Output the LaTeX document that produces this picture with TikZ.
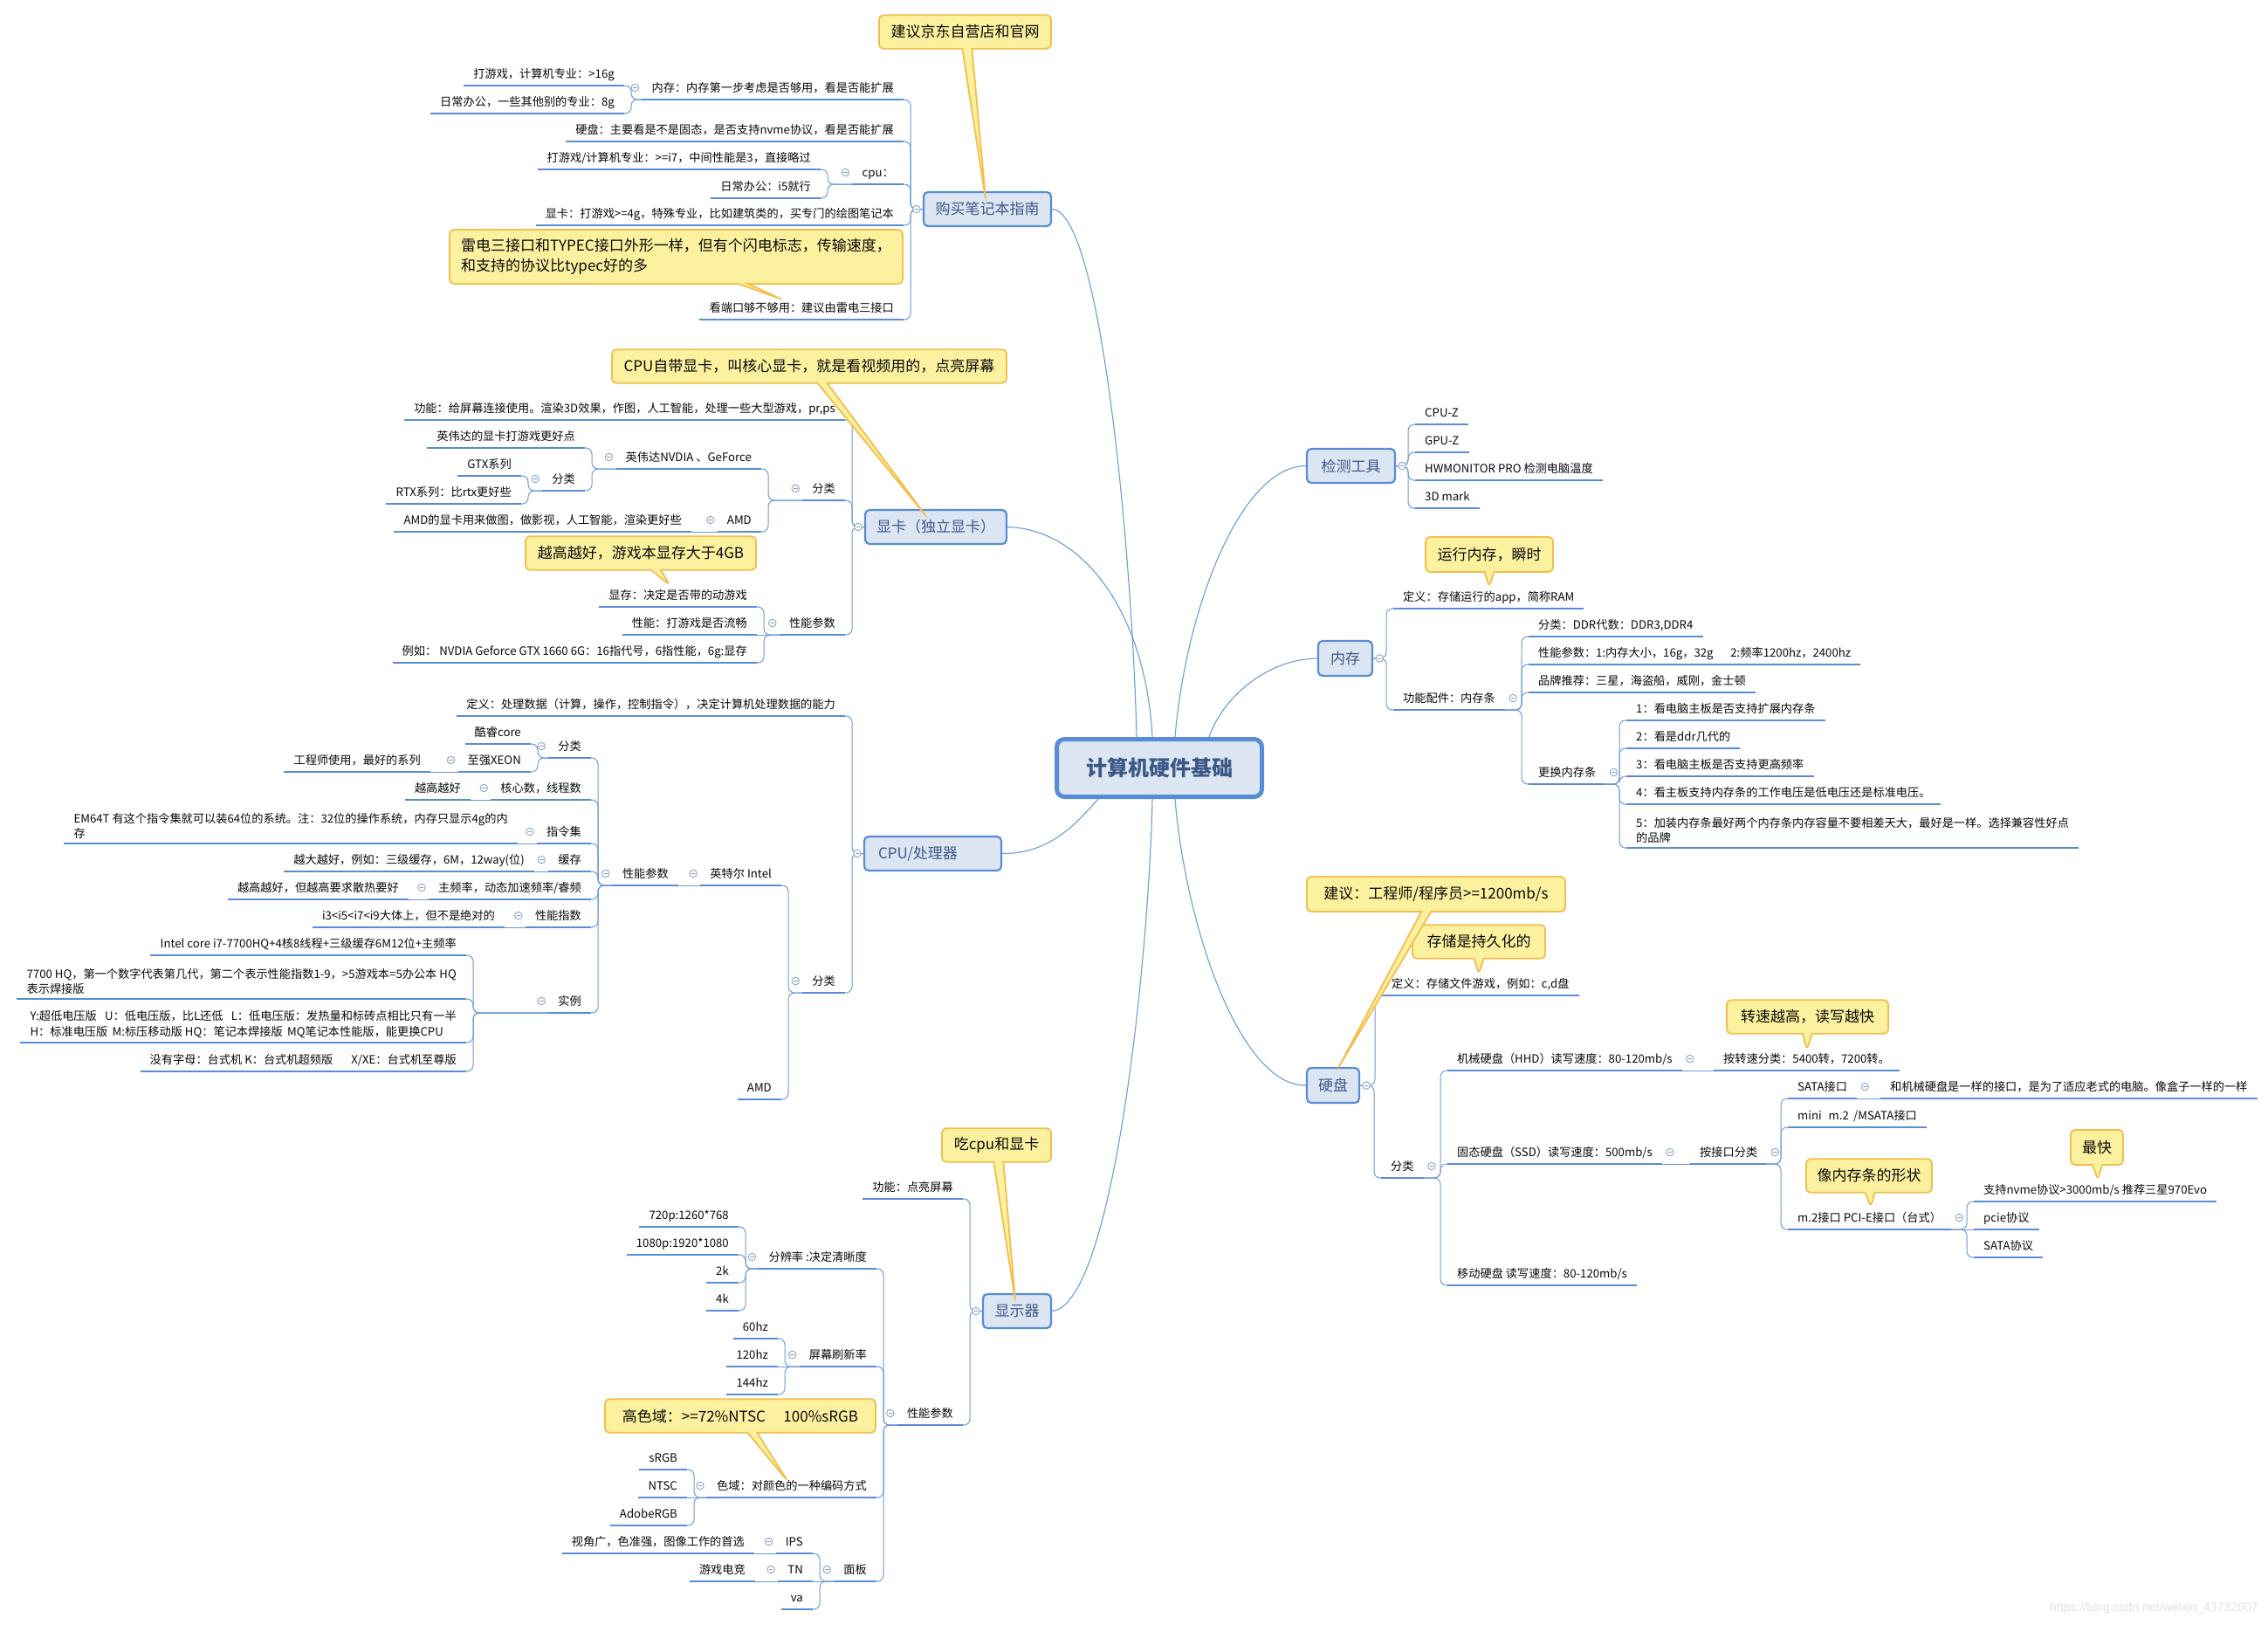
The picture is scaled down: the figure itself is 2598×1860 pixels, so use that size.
\documentclass[tikz,border=0pt]{standalone}
\usepackage{fontspec}
\setmainfont{Noto Sans CJK SC}
\newfontfamily\wmfont{Liberation Sans}
\usetikzlibrary{shapes.callouts,calc}
\pgfdeclarelayer{bg}
\pgfsetlayers{bg,main}
\definecolor{ulc}{RGB}{88,140,212}
\definecolor{connc}{RGB}{110,155,215}
\definecolor{topicfill}{RGB}{220,230,242}
\definecolor{topictext}{RGB}{60,88,135}
\definecolor{callfill}{RGB}{252,241,158}
\definecolor{callborder}{RGB}{243,190,78}
\definecolor{leafc}{RGB}{10,10,10}
\definecolor{markc}{RGB}{130,155,195}
\definecolor{wmc}{RGB}{226,226,226}
\tikzset{
 leaf/.style={inner xsep=11pt, inner ysep=5pt, font=\fontsize{13.2}{17.5}\selectfont, text=leafc},
 lleaf/.style={leaf, anchor=south east},
 rleaf/.style={leaf, anchor=south west},
 uline/.style={draw=ulc, line width=2.6pt},
 conn/.style={draw=connc, line width=1pt, rounded corners=7pt},
 curve/.style={draw=connc, line width=1.1pt},
 topic/.style={draw=ulc, fill=topicfill, line width=2.2pt, rounded corners=5pt, minimum height=39pt, inner sep=2pt, font=\fontsize{17}{20}\selectfont, text=topictext},
 note/.style={rectangle callout, draw=callborder, fill=callfill, line width=1.8pt, rounded corners=5pt, callout pointer width=11pt, minimum height=38.5pt, inner xsep=8pt, inner ysep=4pt, font=\fontsize{17}{23}\selectfont, text=leafc},
 marker/.style={circle, draw=markc, fill=white, line width=0.8pt, minimum size=8.5pt, inner sep=0pt, path picture={\draw[markc, line width=0.8pt] ([xshift=-2.3pt]path picture bounding box.center) -- ([xshift=2.3pt]path picture bounding box.center);}},
}
\newcommand\LNode[5][]{\node[lleaf,#1] (#2) at (#3,#4) {\rule[-3pt]{0pt}{11pt}#5};\draw[uline] (#2.south west) -- (#2.south east);}
\newcommand\RNode[5][]{\node[rleaf,#1] (#2) at (#3,#4) {\rule[-3pt]{0pt}{11pt}#5};\draw[uline] (#2.south west) -- (#2.south east);}
\newcommand\Lcon[2]{\draw[conn] (#2.south east) -- ++(8,0) |- (#1);}
\newcommand\Rcon[2]{\draw[conn] (#2.south west) -- ++(-8,0) |- (#1);}
\newcommand\SLcon[2]{\draw[conn] (#2.south east) -- (#1.south west);}
\newcommand\SRcon[2]{\draw[conn] (#1.south east) -- (#2.south west);}
\newcommand\mkL[2]{\node[marker] (#1) at ($(#2.south west)+(-8,-13.5)$) {};}
\newcommand\mkR[2]{\node[marker] (#1) at ($(#2.south east)+(9,-13.5)$) {};}
\newcommand\mkW[2]{\node[marker] (#1) at ($(#2.west)+(-7,0)$) {};}
\newcommand\mkE[2]{\node[marker] (#1) at ($(#2.east)+(7,0)$) {};}
\begin{document}
\begin{tikzpicture}[x=1pt,y=-1pt]
\useasboundingbox (0,0) rectangle (2598,1860);
\begin{pgfonlayer}{bg}
\fill[white] (0,0) rectangle (2598,1860);
\end{pgfonlayer}

% ---------- topics ----------
\node[draw=ulc, fill=topicfill, line width=5pt, rounded corners=9pt, minimum width=235pt, minimum height=66pt, font=\fontsize{24}{28}\selectfont\bfseries, text=topictext] (root) at (1328,879.5) {计算机硬件基础};
\node[topic, minimum width=146pt] (buy) at (1131,239.5) {购买笔记本指南};
\node[topic, minimum width=162pt] (gpu) at (1072,603.5) {显卡（独立显卡）};
\node[topic, minimum width=157pt, text width=125pt, align=left, inner xsep=16pt] (cpu) at (1068.5,977.5) {CPU/处理器};
\node[topic, minimum width=78pt] (mon) at (1165,1501.5) {显示器};
\node[topic, minimum width=101pt] (tool) at (1547.5,533.5) {检测工具};
\node[topic, minimum width=62pt, minimum height=40pt] (mem) at (1541,754) {内存};
\node[topic, minimum width=60pt, minimum height=40pt] (disk) at (1527,1243) {硬盘};

% ---------- buy guide ----------
\LNode{b1}{1035}{114}{内存：内存第一步考虑是否够用，看是否能扩展}
\LNode{b11}{715}{98}{打游戏，计算机专业：>16g}
\LNode{b12}{715}{130}{日常办公，一些其他别的专业：8g}
\LNode{b2}{1035}{162}{硬盘：主要看是不是固态，是否支持nvme协议，看是否能扩展}
\LNode{b3}{1035}{211}{cpu：}
\LNode{b31}{940}{194}{打游戏/计算机专业：>=i7，中间性能是3，直接略过}
\LNode{b32}{940}{227}{日常办公：i5就行}
\LNode{b4}{1035}{258}{显卡：打游戏>=4g，特殊专业，比如建筑类的，买专门的绘图笔记本}
\LNode{b5}{1035}{366}{看端口够不够用：建议由雷电三接口}

% ---------- gpu ----------
\LNode{g1}{968}{481}{功能：给屏幕连接使用。渲染3D效果，作图，人工智能，处理一些大型游戏，pr,ps}
\LNode{g2}{968}{573}{分类}
\LNode{g21}{872}{537}{英伟达NVDIA 、GeForce}
\LNode{g211}{670}{513}{英伟达的显卡打游戏更好点}
\LNode{g212}{670}{562}{分类}
\LNode{g2121}{597}{545}{GTX系列}
\LNode{g2122}{597}{577}{RTX系列：比rtx更好些}
\LNode{g22}{872}{609}{AMD}
\LNode{g221}{792}{609}{AMD的显卡用来做图，做影视，人工智能，渲染更好些}
\LNode{g3}{968}{727}{性能参数}
\LNode{g31}{867}{695}{显存：决定是否带的动游戏}
\LNode{g32}{867}{727}{性能：打游戏是否流畅}
\LNode{g33}{867}{759}{例如： NVDIA Geforce GTX 1660 6G：16指代号，6指性能，6g:显存}

% ---------- cpu ----------
\LNode{c1}{968}{820}{定义：处理数据（计算，操作，控制指令），决定计算机处理数据的能力}
\LNode{c2}{968}{1137}{分类}
\LNode{c21}{895}{1014}{英特尔 Intel}
\LNode{c22}{895}{1259}{AMD}
\LNode{c211}{777}{1014}{性能参数}
\LNode{c2111}{677}{868}{分类}
\LNode{c21111}{608}{852}{酷睿core}
\LNode{c21112}{608}{884}{至强XEON}
\LNode{c211121}{493}{884}{工程师使用，最好的系列}
\LNode{c2112}{677}{916}{核心数，线程数}
\LNode{c21121}{539}{916}{越高越好}
\LNode{c2113}{677}{966}{指令集}
\LNode[align=left]{c21131}{593}{966}{EM64T 有这个指令集就可以装64位的系统。注：32位的操作系统，内存只显示4g的内\\存}
\LNode{c2114}{677}{998}{缓存}
\LNode{c21141}{612}{998}{越大越好，例如：三级缓存，6M，12way(位)}
\LNode{c2115}{677}{1030}{主频率，动态加速频率/睿频}
\LNode{c21151}{468}{1030}{越高越好，但越高要求散热要好}
\LNode{c2116}{677}{1062}{性能指数}
\LNode{c21161}{578}{1062}{i3<i5<i7<i9大体上，但不是绝对的}
\LNode{c2117}{677}{1160}{实例}
\LNode{c21171}{534}{1094}{Intel core i7-7700HQ+4核8线程+三级缓存6M12位+主频率}
\LNode[align=left]{c21172}{534}{1144}{7700 HQ，第一个数字代表第几代，第二个表示性能指数1-9，>5游戏本=5办公本 HQ\\表示焊接版}
\LNode[align=left]{c21173}{534}{1194}{Y:超低电压版\hspace{0.7em}U：低电压版，比L还低\hspace{0.7em}L：低电压版：发热量和标砖点相比只有一半\\H：标准电压版\hspace{0.4em}M:标压移动版 HQ：笔记本焊接版\hspace{0.4em}MQ笔记本性能版，能更换CPU}
\LNode{c21174}{534}{1227}{没有字母：台式机 K：台式机超频版\hspace{1.6em}X/XE：台式机至尊版}

% ---------- monitor ----------
\LNode{d1}{1103}{1373}{功能：点亮屏幕}
\LNode{d2}{1103}{1632}{性能参数}
\LNode{d21}{1004}{1453}{分辨率 :决定清晰度}
\LNode{d211}{846}{1405}{720p:1260*768}
\LNode{d212}{846}{1437}{1080p:1920*1080}
\LNode{d213}{846}{1469}{2k}
\LNode{d214}{846}{1501}{4k}
\LNode{d22}{1004}{1565}{屏幕刷新率}
\LNode{d221}{891}{1533}{60hz}
\LNode{d222}{891}{1565}{120hz}
\LNode{d223}{891}{1597}{144hz}
\LNode{d23}{1004}{1715}{色域：对颜色的一种编码方式}
\LNode{d231}{787}{1683}{sRGB}
\LNode{d232}{787}{1715}{NTSC}
\LNode{d233}{787}{1747}{AdobeRGB}
\LNode{d24}{1004}{1811}{面板}
\LNode{d241}{931}{1779}{IPS}
\LNode{d2411}{864}{1779}{视角广，色准强，图像工作的首选}
\LNode{d242}{931}{1811}{TN}
\LNode{d2421}{865}{1811}{游戏电竞}
\LNode{d243}{931}{1843}{va}

% ---------- tools ----------
\RNode{t1}{1621}{486}{CPU-Z}
\RNode{t2}{1621}{518}{GPU-Z}
\RNode{t3}{1621}{550}{HWMONITOR PRO 检测电脑温度}
\RNode{t4}{1621}{582}{3D mark}

% ---------- memory ----------
\RNode{m1}{1596}{697}{定义：存储运行的app，简称RAM}
\RNode{m2}{1596}{813}{功能配件：内存条}
\RNode{m21}{1751}{729}{分类：DDR代数：DDR3,DDR4}
\RNode{m22}{1751}{761}{性能参数：1:内存大小，16g，32g\hspace{1.5em}2:频率1200hz，2400hz}
\RNode{m23}{1751}{793}{品牌推荐：三星，海盗船，威刚，金士顿}
\RNode{m24}{1751}{898}{更换内存条}
\RNode{m241}{1863}{825}{1：看电脑主板是否支持扩展内存条}
\RNode{m242}{1863}{857}{2：看是ddr几代的}
\RNode{m243}{1863}{889}{3：看电脑主板是否支持更高频率}
\RNode{m244}{1863}{921}{4：看主板支持内存条的工作电压是低电压还是标准电压。}
\RNode[align=left]{m245}{1863}{971}{5：加装内存条最好两个内存条内存容量不要相差天大，最好是一样。选择兼容性好点\\的品牌}

% ---------- disk ----------
\RNode{h1}{1583}{1140}{定义：存储文件游戏，例如：c,d盘}
\RNode{h2}{1582}{1349}{分类}
\RNode{h21}{1658}{1226}{机械硬盘（HHD）读写速度：80-120mb/s}
\RNode{h211}{1963}{1226}{按转速分类：5400转，7200转。}
\RNode{h22}{1658}{1333}{固态硬盘（SSD）读写速度：500mb/s}
\RNode{h221}{1936}{1333}{按接口分类}
\RNode{h2211}{2048}{1258}{SATA接口}
\RNode{h22111}{2154}{1258}{和机械硬盘是一样的接口，是为了适应老式的电脑。像盒子一样的一样}
\RNode{h2212}{2048}{1291}{mini\hspace{0.6em}m.2\hspace{0.4em}/MSATA接口}
\RNode{h2213}{2048}{1408}{m.2接口 PCI-E接口（台式）}
\RNode{h22131}{2261}{1376}{支持nvme协议>3000mb/s 推荐三星970Evo}
\RNode{h22132}{2261}{1408}{pcie协议}
\RNode{h22133}{2261}{1440}{SATA协议}
\RNode{h23}{1658}{1472}{移动硬盘 读写速度：80-120mb/s}

% ---------- callouts ----------
\node[note, minimum width=197pt, callout absolute pointer={(1129,228)}] (n1) at (1105.5,36.5) {建议京东自营店和官网};
\node[note, minimum width=519pt, minimum height=62pt, align=left, callout absolute pointer={(896,343)}] (n2) at (774.5,294) {雷电三接口和TYPEC接口外形一样，但有个闪电标志，传输速度，\\和支持的协议比typec好的多};
\node[note, minimum width=452pt, callout absolute pointer={(1060,590)}] (n3) at (927,419.5) {CPU自带显卡，叫核心显卡，就是看视频用的，点亮屏幕};
\node[note, minimum width=264pt, callout absolute pointer={(767,670)}] (n4) at (734,633.5) {越高越好，游戏本显存大于4GB};
\node[note, minimum width=125pt, callout absolute pointer={(1163,1490)}] (n5) at (1141.5,1311.5) {吃cpu和显卡};
\node[note, minimum width=310pt, callout absolute pointer={(902,1696)}] (n6) at (848,1621.5) {高色域：>=72\%NTSC\hspace{1.2em}100\%sRGB};
\node[note, minimum width=146pt, minimum height=40pt, callout absolute pointer={(1706,672)}] (n7) at (1706,635) {运行内存，瞬时};
\node[note, minimum width=152pt, callout absolute pointer={(1694,1115)}] (n9) at (1694,1078.5) {存储是持久化的};
\node[note, minimum width=296pt, minimum height=40pt, callout absolute pointer={(1533,1223)}] (n8) at (1645,1024) {建议：工程师/程序员>=1200mb/s};
\node[note, minimum width=185pt, callout absolute pointer={(2070,1202)}] (n10) at (2070.5,1164.5) {转速越高，读写越快};
\node[note, minimum width=144pt, callout absolute pointer={(2143,1382)}] (n11) at (2141,1346.5) {像内存条的形状};
\node[note, minimum width=60pt, minimum height=40pt, callout absolute pointer={(2403,1351)}] (n12) at (2402,1314) {最快};

% ---------- markers ----------
\mkW{kbuy}{buy} \mkL{kb1}{b1} \mkL{kb3}{b3}
\mkW{kgpu}{gpu} \mkL{kg2}{g2} \mkL{kg21}{g21} \mkL{kg212}{g212} \mkL{kg22}{g22} \mkL{kg3}{g3}
\mkW{kcpu}{cpu} \mkL{kc2}{c2} \mkL{kc21}{c21} \mkL{kc211}{c211} \mkL{kc2111}{c2111} \mkL{kc21112}{c21112}
\mkL{kc2112}{c2112} \mkL{kc2113}{c2113} \mkL{kc2114}{c2114} \mkL{kc2115}{c2115} \mkL{kc2116}{c2116} \mkL{kc2117}{c2117}
\mkW{kmon}{mon} \mkL{kd2}{d2} \mkL{kd21}{d21} \mkL{kd22}{d22} \mkL{kd23}{d23} \mkL{kd24}{d24} \mkL{kd241}{d241} \mkL{kd242}{d242}
\mkE{ktool}{tool} \mkE{kmem}{mem} \mkR{km2}{m2} \mkR{km24}{m24}
\mkE{kdisk}{disk} \mkR{kh2}{h2} \mkR{kh21}{h21} \mkR{kh22}{h22} \mkR{kh221}{h221} \mkR{kh2211}{h2211} \mkR{kh2213}{h2213}

\node[font=\wmfont\fontsize{14}{16}\selectfont, text=wmc, anchor=east] (wm) at (2590,1842) {https://blog.csdn.net/weixin\_43732607};

% ---------- connectors ----------
\begin{pgfonlayer}{bg}
\draw[curve] (buy.east) .. controls (1262,242) and (1297,640) .. ($(root.north)+(-26,0)$);
\draw[curve] (gpu.east) .. controls (1240,606) and (1312,700) .. ($(root.north)+(-8,0)$);
\draw[curve] (cpu.east) .. controls (1205,978) and (1235,940) .. ($(root.south west)+(50,0)$);
\draw[curve] (mon.east) .. controls (1275,1495) and (1316,1100) .. ($(root.south)+(-8,0)$);
\draw[curve] (tool.west) .. controls (1420,534) and (1358,700) .. ($(root.north)+(18,0)$);
\draw[curve] (mem.west) .. controls (1450,755) and (1400,800) .. ($(root.north)+(57,0)$);
\draw[curve] (disk.west) .. controls (1420,1244) and (1358,1060) .. ($(root.south)+(18,0)$);

\Lcon{buy.west}{b1} \Lcon{buy.west}{b2} \Lcon{buy.west}{b3} \Lcon{buy.west}{b4} \Lcon{buy.west}{b5}
\Lcon{b1.south west}{b11} \Lcon{b1.south west}{b12}
\Lcon{b3.south west}{b31} \Lcon{b3.south west}{b32}

\Lcon{gpu.west}{g1} \Lcon{gpu.west}{g2} \Lcon{gpu.west}{g3}
\Lcon{g2.south west}{g21} \Lcon{g2.south west}{g22}
\Lcon{g21.south west}{g211} \Lcon{g21.south west}{g212}
\Lcon{g212.south west}{g2121} \Lcon{g212.south west}{g2122}
\SLcon{g22}{g221}
\Lcon{g3.south west}{g31} \SLcon{g3}{g32} \Lcon{g3.south west}{g33}

\Lcon{cpu.west}{c1} \Lcon{cpu.west}{c2}
\Lcon{c2.south west}{c21} \Lcon{c2.south west}{c22}
\SLcon{c21}{c211}
\Lcon{c211.south west}{c2111} \Lcon{c211.south west}{c2112} \Lcon{c211.south west}{c2113}
\Lcon{c211.south west}{c2114} \Lcon{c211.south west}{c2115} \Lcon{c211.south west}{c2116} \Lcon{c211.south west}{c2117}
\Lcon{c2111.south west}{c21111} \Lcon{c2111.south west}{c21112}
\SLcon{c21112}{c211121} \SLcon{c2112}{c21121} \SLcon{c2113}{c21131} \SLcon{c2114}{c21141} \SLcon{c2115}{c21151} \SLcon{c2116}{c21161}
\Lcon{c2117.south west}{c21171} \Lcon{c2117.south west}{c21172} \Lcon{c2117.south west}{c21173} \Lcon{c2117.south west}{c21174}

\Lcon{mon.west}{d1} \Lcon{mon.west}{d2}
\Lcon{d2.south west}{d21} \Lcon{d2.south west}{d22} \Lcon{d2.south west}{d23} \Lcon{d2.south west}{d24}
\Lcon{d21.south west}{d211} \Lcon{d21.south west}{d212} \Lcon{d21.south west}{d213} \Lcon{d21.south west}{d214}
\Lcon{d22.south west}{d221} \SLcon{d22}{d222} \Lcon{d22.south west}{d223}
\Lcon{d23.south west}{d231} \SLcon{d23}{d232} \Lcon{d23.south west}{d233}
\Lcon{d24.south west}{d241} \SLcon{d24}{d242} \Lcon{d24.south west}{d243}
\SLcon{d241}{d2411} \SLcon{d242}{d2421}

\Rcon{tool.east}{t1} \Rcon{tool.east}{t2} \Rcon{tool.east}{t3} \Rcon{tool.east}{t4}
\Rcon{mem.east}{m1} \Rcon{mem.east}{m2}
\Rcon{m2.south east}{m21} \Rcon{m2.south east}{m22} \Rcon{m2.south east}{m23} \Rcon{m2.south east}{m24}
\Rcon{m24.south east}{m241} \Rcon{m24.south east}{m242} \Rcon{m24.south east}{m243} \Rcon{m24.south east}{m244} \Rcon{m24.south east}{m245}
\Rcon{disk.east}{h1} \Rcon{disk.east}{h2}
\Rcon{h2.south east}{h21} \Rcon{h2.south east}{h22} \Rcon{h2.south east}{h23}
\SRcon{h21}{h211} \SRcon{h22}{h221}
\Rcon{h221.south east}{h2211} \Rcon{h221.south east}{h2212} \Rcon{h221.south east}{h2213}
\SRcon{h2211}{h22111}
\Rcon{h2213.south east}{h22131} \SRcon{h2213}{h22132} \Rcon{h2213.south east}{h22133}
\end{pgfonlayer}
\end{tikzpicture}
\end{document}
